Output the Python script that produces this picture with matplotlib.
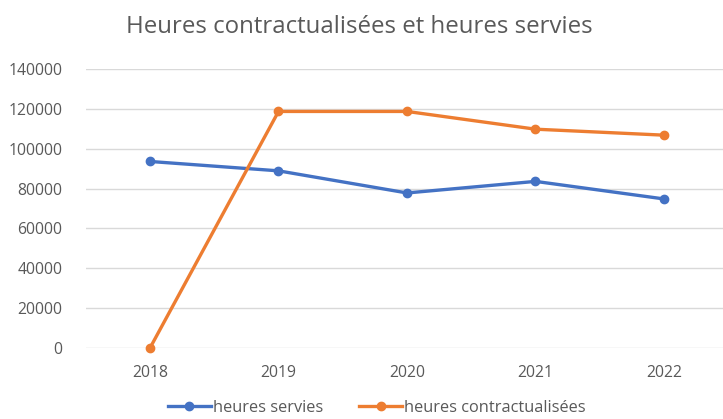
import matplotlib
matplotlib.use("Agg")
import matplotlib.pyplot as plt

years = ["2018", "2019", "2020", "2021", "2022"]
heures_servies = [93600, 88900, 77800, 83600, 74800]
heures_contract = [0, 118700, 118700, 109800, 106800]
yticks = [0, 20000, 40000, 60000, 80000, 100000, 120000, 140000]

plt.rcParams['font.family'] = ['Open Sans', 'DejaVu Sans']
W, H = 723, 419
fig = plt.figure(figsize=(W/100, H/100), dpi=100)
left, right, bottom, top = 86, 723, 348, 69
ax = fig.add_axes([left/W, 1-bottom/H, (right-left)/W, (bottom-top)/H])
x = list(range(len(years)))
grey = "#595959"
ax.plot(x, heures_servies, color="#4472C4", lw=2.4, marker="o", ms=6,
        label="heures servies", clip_on=False, zorder=3)
ax.plot(x, heures_contract, color="#ED7D31", lw=2.4, marker="o", ms=6,
        label="heures contractualisées", clip_on=False, zorder=3)
ax.set_xlim(-0.498, (right-150)/128.5)
ax.set_ylim(0, 140000)
ax.set_yticks(yticks)
ax.set_yticklabels([str(v) for v in yticks])
ax.set_xticks(x)
ax.set_xticklabels(years)
ax.grid(axis='y', color="#d9d9d9", lw=1)
ax.set_axisbelow(True)
for s in ax.spines.values():
    s.set_visible(False)
ax.tick_params(length=0, labelsize=11.3, labelcolor=grey)
ax.tick_params(axis='y', pad=17)
ax.tick_params(axis='x', pad=12)
fig.text(0.5*(125+593)/W, 1-27/H, "Heures contractualisées et heures servies",
         ha="center", va="center", fontsize=17.3, color=grey)
leg = fig.legend(loc="center", bbox_to_anchor=(377/W, 1-408/H), ncol=2, frameon=False,
                 fontsize=11.8, labelcolor=grey, handlelength=2.6, handletextpad=0.15,
                 columnspacing=2.2)
fig.savefig("out.png", dpi=100)
